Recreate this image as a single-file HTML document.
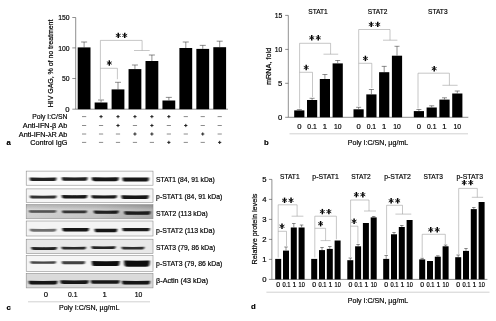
<!DOCTYPE html>
<html><head><meta charset="utf-8"><title>figure</title>
<style>
html,body{margin:0;padding:0;background:#fff;}
body{width:496px;height:321px;overflow:hidden;}
svg{display:block;font-family:"Liberation Sans",sans-serif;fill:#000;}
text{stroke:#000;stroke-width:0.2px;}
</style></head><body>
<svg width="496" height="321" viewBox="0 0 496 321">
<defs><filter id="soft" x="0" y="0" width="100%" height="100%"><feGaussianBlur stdDeviation="0.32"/></filter></defs>
<rect width="496" height="321" fill="#fff"/>
<g filter="url(#soft)">
<line x1="75.7" y1="17.5" x2="75.7" y2="109.2" stroke="#444" stroke-width="0.6"/>
<line x1="75.7" y1="109.2" x2="228" y2="109.2" stroke="#444" stroke-width="0.6"/>
<line x1="72.3" y1="17.5" x2="75.7" y2="17.5" stroke="#444" stroke-width="0.6"/>
<text x="69.6" y="20.16" font-size="7.7" text-anchor="end" textLength="11.37" lengthAdjust="spacingAndGlyphs">150</text>
<line x1="72.3" y1="47.9" x2="75.7" y2="47.9" stroke="#444" stroke-width="0.6"/>
<text x="69.6" y="50.56" font-size="7.7" text-anchor="end" textLength="11.37" lengthAdjust="spacingAndGlyphs">100</text>
<line x1="72.3" y1="78.5" x2="75.7" y2="78.5" stroke="#444" stroke-width="0.6"/>
<text x="69.6" y="81.16" font-size="7.7" text-anchor="end" textLength="7.58" lengthAdjust="spacingAndGlyphs">50</text>
<line x1="72.3" y1="109.2" x2="75.7" y2="109.2" stroke="#444" stroke-width="0.6"/>
<text x="69.6" y="111.86" font-size="7.7" text-anchor="end">0</text>
<text transform="translate(50.4,63.4) rotate(-90)" x="0" y="2.76" font-size="7.7" text-anchor="middle" textLength="87.5" lengthAdjust="spacingAndGlyphs">HIV GAG, % of no treatment</text>
<rect x="77.7" y="47.4" width="12.8" height="61.80" fill="#000"/>
<line x1="84.10000000000001" y1="42" x2="84.10000000000001" y2="47.4" stroke="#333" stroke-width="0.55"/>
<line x1="81.10000000000001" y1="42" x2="87.10000000000001" y2="42" stroke="#333" stroke-width="0.55"/>
<rect x="94.65" y="102.5" width="12.8" height="6.70" fill="#000"/>
<line x1="101.05000000000001" y1="100" x2="101.05000000000001" y2="102.5" stroke="#333" stroke-width="0.55"/>
<line x1="98.05000000000001" y1="100" x2="104.05000000000001" y2="100" stroke="#333" stroke-width="0.55"/>
<rect x="111.6" y="89.4" width="12.8" height="19.80" fill="#000"/>
<line x1="118.0" y1="82.3" x2="118.0" y2="89.4" stroke="#333" stroke-width="0.55"/>
<line x1="115.0" y1="82.3" x2="121.0" y2="82.3" stroke="#333" stroke-width="0.55"/>
<rect x="128.55" y="69.1" width="12.8" height="40.10" fill="#000"/>
<line x1="134.95000000000002" y1="65" x2="134.95000000000002" y2="69.1" stroke="#333" stroke-width="0.55"/>
<line x1="131.95000000000002" y1="65" x2="137.95000000000002" y2="65" stroke="#333" stroke-width="0.55"/>
<rect x="145.5" y="61" width="12.8" height="48.20" fill="#000"/>
<line x1="151.9" y1="55" x2="151.9" y2="61" stroke="#333" stroke-width="0.55"/>
<line x1="148.9" y1="55" x2="154.9" y2="55" stroke="#333" stroke-width="0.55"/>
<rect x="162.45" y="100.5" width="12.8" height="8.70" fill="#000"/>
<line x1="168.85" y1="97.4" x2="168.85" y2="100.5" stroke="#333" stroke-width="0.55"/>
<line x1="165.85" y1="97.4" x2="171.85" y2="97.4" stroke="#333" stroke-width="0.55"/>
<rect x="179.39999999999998" y="48" width="12.8" height="61.20" fill="#000"/>
<line x1="185.79999999999998" y1="42" x2="185.79999999999998" y2="48" stroke="#333" stroke-width="0.55"/>
<line x1="182.79999999999998" y1="42" x2="188.79999999999998" y2="42" stroke="#333" stroke-width="0.55"/>
<rect x="196.35" y="48.9" width="12.8" height="60.30" fill="#000"/>
<line x1="202.75" y1="45.4" x2="202.75" y2="48.9" stroke="#333" stroke-width="0.55"/>
<line x1="199.75" y1="45.4" x2="205.75" y2="45.4" stroke="#333" stroke-width="0.55"/>
<rect x="213.3" y="47.2" width="12.8" height="62.00" fill="#000"/>
<line x1="219.70000000000002" y1="41.2" x2="219.70000000000002" y2="47.2" stroke="#333" stroke-width="0.55"/>
<line x1="216.70000000000002" y1="41.2" x2="222.70000000000002" y2="41.2" stroke="#333" stroke-width="0.55"/>
<polyline points="100.4,99.5 100.4,40.4 142.1,40.4 142.1,50.5" fill="none" stroke="#999" stroke-width="0.55"/>
<line x1="134" y1="50.5" x2="149.7" y2="50.5" stroke="#999" stroke-width="0.55"/>
<polyline points="100.4,68.3 117.4,68.3 117.4,79.2" fill="none" stroke="#999" stroke-width="0.55"/>
<line x1="118.25" y1="32.699999999999996" x2="118.25" y2="38.1" stroke="#000" stroke-width="1.45"/>
<line x1="115.82" y1="34.22" x2="120.68" y2="36.58" stroke="#111" stroke-width="0.9"/>
<line x1="115.82" y1="36.58" x2="120.68" y2="34.22" stroke="#111" stroke-width="0.9"/>
<line x1="124.75" y1="32.699999999999996" x2="124.75" y2="38.1" stroke="#000" stroke-width="1.45"/>
<line x1="122.32" y1="34.22" x2="127.18" y2="36.58" stroke="#111" stroke-width="0.9"/>
<line x1="122.32" y1="36.58" x2="127.18" y2="34.22" stroke="#111" stroke-width="0.9"/>
<line x1="109.3" y1="60.3" x2="109.3" y2="65.7" stroke="#000" stroke-width="1.45"/>
<line x1="106.87" y1="61.82" x2="111.73" y2="64.18" stroke="#111" stroke-width="0.9"/>
<line x1="106.87" y1="64.18" x2="111.73" y2="61.82" stroke="#111" stroke-width="0.9"/>
<text x="67.3" y="119.36" font-size="7.7" text-anchor="end" textLength="35" lengthAdjust="spacingAndGlyphs">Poly I:C/SN</text>
<line x1="82.00000000000001" y1="116.6" x2="86.2" y2="116.6" stroke="#666" stroke-width="0.75"/>
<line x1="99.45000000000002" y1="116.6" x2="102.65" y2="116.6" stroke="#222" stroke-width="1.0"/>
<line x1="101.05000000000001" y1="115.0" x2="101.05000000000001" y2="118.19999999999999" stroke="#222" stroke-width="1.0"/>
<line x1="116.4" y1="116.6" x2="119.6" y2="116.6" stroke="#222" stroke-width="1.0"/>
<line x1="118.0" y1="115.0" x2="118.0" y2="118.19999999999999" stroke="#222" stroke-width="1.0"/>
<line x1="133.35000000000002" y1="116.6" x2="136.55" y2="116.6" stroke="#222" stroke-width="1.0"/>
<line x1="134.95000000000002" y1="115.0" x2="134.95000000000002" y2="118.19999999999999" stroke="#222" stroke-width="1.0"/>
<line x1="150.3" y1="116.6" x2="153.5" y2="116.6" stroke="#222" stroke-width="1.0"/>
<line x1="151.9" y1="115.0" x2="151.9" y2="118.19999999999999" stroke="#222" stroke-width="1.0"/>
<line x1="167.25" y1="116.6" x2="170.45" y2="116.6" stroke="#222" stroke-width="1.0"/>
<line x1="168.85" y1="115.0" x2="168.85" y2="118.19999999999999" stroke="#222" stroke-width="1.0"/>
<line x1="183.7" y1="116.6" x2="187.89999999999998" y2="116.6" stroke="#666" stroke-width="0.75"/>
<line x1="200.65" y1="116.6" x2="204.85" y2="116.6" stroke="#666" stroke-width="0.75"/>
<line x1="217.60000000000002" y1="116.6" x2="221.8" y2="116.6" stroke="#666" stroke-width="0.75"/>
<text x="67.3" y="128.26" font-size="7.7" text-anchor="end" textLength="44.5" lengthAdjust="spacingAndGlyphs">Anti-IFN-β Ab</text>
<line x1="82.00000000000001" y1="125.5" x2="86.2" y2="125.5" stroke="#666" stroke-width="0.75"/>
<line x1="98.95000000000002" y1="125.5" x2="103.15" y2="125.5" stroke="#666" stroke-width="0.75"/>
<line x1="116.4" y1="125.5" x2="119.6" y2="125.5" stroke="#222" stroke-width="1.0"/>
<line x1="118.0" y1="123.9" x2="118.0" y2="127.1" stroke="#222" stroke-width="1.0"/>
<line x1="132.85000000000002" y1="125.5" x2="137.05" y2="125.5" stroke="#666" stroke-width="0.75"/>
<line x1="150.3" y1="125.5" x2="153.5" y2="125.5" stroke="#222" stroke-width="1.0"/>
<line x1="151.9" y1="123.9" x2="151.9" y2="127.1" stroke="#222" stroke-width="1.0"/>
<line x1="166.75" y1="125.5" x2="170.95" y2="125.5" stroke="#666" stroke-width="0.75"/>
<line x1="184.2" y1="125.5" x2="187.39999999999998" y2="125.5" stroke="#222" stroke-width="1.0"/>
<line x1="185.79999999999998" y1="123.9" x2="185.79999999999998" y2="127.1" stroke="#222" stroke-width="1.0"/>
<line x1="200.65" y1="125.5" x2="204.85" y2="125.5" stroke="#666" stroke-width="0.75"/>
<line x1="217.60000000000002" y1="125.5" x2="221.8" y2="125.5" stroke="#666" stroke-width="0.75"/>
<text x="67.3" y="136.76" font-size="7.7" text-anchor="end" textLength="48.5" lengthAdjust="spacingAndGlyphs">Anti-IFN-λR Ab</text>
<line x1="82.00000000000001" y1="134" x2="86.2" y2="134" stroke="#666" stroke-width="0.75"/>
<line x1="98.95000000000002" y1="134" x2="103.15" y2="134" stroke="#666" stroke-width="0.75"/>
<line x1="115.9" y1="134" x2="120.1" y2="134" stroke="#666" stroke-width="0.75"/>
<line x1="133.35000000000002" y1="134" x2="136.55" y2="134" stroke="#222" stroke-width="1.0"/>
<line x1="134.95000000000002" y1="132.4" x2="134.95000000000002" y2="135.6" stroke="#222" stroke-width="1.0"/>
<line x1="150.3" y1="134" x2="153.5" y2="134" stroke="#222" stroke-width="1.0"/>
<line x1="151.9" y1="132.4" x2="151.9" y2="135.6" stroke="#222" stroke-width="1.0"/>
<line x1="166.75" y1="134" x2="170.95" y2="134" stroke="#666" stroke-width="0.75"/>
<line x1="183.7" y1="134" x2="187.89999999999998" y2="134" stroke="#666" stroke-width="0.75"/>
<line x1="201.15" y1="134" x2="204.35" y2="134" stroke="#222" stroke-width="1.0"/>
<line x1="202.75" y1="132.4" x2="202.75" y2="135.6" stroke="#222" stroke-width="1.0"/>
<line x1="217.60000000000002" y1="134" x2="221.8" y2="134" stroke="#666" stroke-width="0.75"/>
<text x="67.3" y="145.16" font-size="7.7" text-anchor="end" textLength="37" lengthAdjust="spacingAndGlyphs">Control IgG</text>
<line x1="82.00000000000001" y1="142.4" x2="86.2" y2="142.4" stroke="#666" stroke-width="0.75"/>
<line x1="98.95000000000002" y1="142.4" x2="103.15" y2="142.4" stroke="#666" stroke-width="0.75"/>
<line x1="115.9" y1="142.4" x2="120.1" y2="142.4" stroke="#666" stroke-width="0.75"/>
<line x1="132.85000000000002" y1="142.4" x2="137.05" y2="142.4" stroke="#666" stroke-width="0.75"/>
<line x1="149.8" y1="142.4" x2="154.0" y2="142.4" stroke="#666" stroke-width="0.75"/>
<line x1="167.25" y1="142.4" x2="170.45" y2="142.4" stroke="#222" stroke-width="1.0"/>
<line x1="168.85" y1="140.8" x2="168.85" y2="144.0" stroke="#222" stroke-width="1.0"/>
<line x1="183.7" y1="142.4" x2="187.89999999999998" y2="142.4" stroke="#666" stroke-width="0.75"/>
<line x1="200.65" y1="142.4" x2="204.85" y2="142.4" stroke="#666" stroke-width="0.75"/>
<line x1="218.10000000000002" y1="142.4" x2="221.3" y2="142.4" stroke="#222" stroke-width="1.0"/>
<line x1="219.70000000000002" y1="140.8" x2="219.70000000000002" y2="144.0" stroke="#222" stroke-width="1.0"/>
<text x="6.5" y="144.56" font-size="7.7" text-anchor="start" font-weight="bold">a</text>
<line x1="288.3" y1="15.4" x2="288.3" y2="117.3" stroke="#444" stroke-width="0.6"/>
<line x1="288.3" y1="117.3" x2="468.3" y2="117.3" stroke="#444" stroke-width="0.6"/>
<line x1="285.2" y1="15.4" x2="288.3" y2="15.4" stroke="#444" stroke-width="0.6"/>
<text x="282.4" y="18.26" font-size="7.7" text-anchor="end" textLength="7.58" lengthAdjust="spacingAndGlyphs">15</text>
<line x1="285.2" y1="49.4" x2="288.3" y2="49.4" stroke="#444" stroke-width="0.6"/>
<text x="282.4" y="52.26" font-size="7.7" text-anchor="end" textLength="7.58" lengthAdjust="spacingAndGlyphs">10</text>
<line x1="285.2" y1="83.3" x2="288.3" y2="83.3" stroke="#444" stroke-width="0.6"/>
<text x="282.4" y="86.16" font-size="7.7" text-anchor="end">5</text>
<line x1="285.2" y1="117.3" x2="288.3" y2="117.3" stroke="#444" stroke-width="0.6"/>
<text x="282.4" y="120.16" font-size="7.7" text-anchor="end">0</text>
<text transform="translate(268.3,66.4) rotate(-90)" x="0" y="2.76" font-size="7.7" text-anchor="middle" textLength="37.2" lengthAdjust="spacingAndGlyphs">mRNA, fold</text>
<rect x="294.2" y="110.4" width="10.2" height="6.90" fill="#000"/>
<line x1="299.3" y1="109.6" x2="299.3" y2="110.4" stroke="#333" stroke-width="0.55"/>
<line x1="296.8" y1="109.6" x2="301.8" y2="109.6" stroke="#333" stroke-width="0.55"/>
<text x="299.3" y="129.06" font-size="7.7" text-anchor="middle">0</text>
<rect x="307.0" y="100" width="10.2" height="17.30" fill="#000"/>
<line x1="312.1" y1="98.3" x2="312.1" y2="100" stroke="#333" stroke-width="0.55"/>
<line x1="309.6" y1="98.3" x2="314.6" y2="98.3" stroke="#333" stroke-width="0.55"/>
<text x="312.1" y="129.06" font-size="7.7" text-anchor="middle" textLength="9.47" lengthAdjust="spacingAndGlyphs">0.1</text>
<rect x="319.8" y="79" width="10.2" height="38.30" fill="#000"/>
<line x1="324.90000000000003" y1="74.5" x2="324.90000000000003" y2="79" stroke="#333" stroke-width="0.55"/>
<line x1="322.40000000000003" y1="74.5" x2="327.40000000000003" y2="74.5" stroke="#333" stroke-width="0.55"/>
<text x="324.90000000000003" y="129.06" font-size="7.7" text-anchor="middle">1</text>
<rect x="332.6" y="63.4" width="10.2" height="53.90" fill="#000"/>
<line x1="337.70000000000005" y1="60.5" x2="337.70000000000005" y2="63.4" stroke="#333" stroke-width="0.55"/>
<line x1="335.20000000000005" y1="60.5" x2="340.20000000000005" y2="60.5" stroke="#333" stroke-width="0.55"/>
<text x="337.70000000000005" y="129.06" font-size="7.7" text-anchor="middle" textLength="7.58" lengthAdjust="spacingAndGlyphs">10</text>
<rect x="353.5" y="109.3" width="10.2" height="8.00" fill="#000"/>
<line x1="358.6" y1="107.3" x2="358.6" y2="109.3" stroke="#333" stroke-width="0.55"/>
<line x1="356.1" y1="107.3" x2="361.1" y2="107.3" stroke="#333" stroke-width="0.55"/>
<text x="358.6" y="129.06" font-size="7.7" text-anchor="middle">0</text>
<rect x="366.3" y="94.4" width="10.2" height="22.90" fill="#000"/>
<line x1="371.40000000000003" y1="89.5" x2="371.40000000000003" y2="94.4" stroke="#333" stroke-width="0.55"/>
<line x1="368.90000000000003" y1="89.5" x2="373.90000000000003" y2="89.5" stroke="#333" stroke-width="0.55"/>
<text x="371.40000000000003" y="129.06" font-size="7.7" text-anchor="middle" textLength="9.47" lengthAdjust="spacingAndGlyphs">0.1</text>
<rect x="379.1" y="72.2" width="10.2" height="45.10" fill="#000"/>
<line x1="384.20000000000005" y1="66.4" x2="384.20000000000005" y2="72.2" stroke="#333" stroke-width="0.55"/>
<line x1="381.70000000000005" y1="66.4" x2="386.70000000000005" y2="66.4" stroke="#333" stroke-width="0.55"/>
<text x="384.20000000000005" y="129.06" font-size="7.7" text-anchor="middle">1</text>
<rect x="391.9" y="55.7" width="10.2" height="61.60" fill="#000"/>
<line x1="397.0" y1="46.3" x2="397.0" y2="55.7" stroke="#333" stroke-width="0.55"/>
<line x1="394.5" y1="46.3" x2="399.5" y2="46.3" stroke="#333" stroke-width="0.55"/>
<text x="397.0" y="129.06" font-size="7.7" text-anchor="middle" textLength="7.58" lengthAdjust="spacingAndGlyphs">10</text>
<rect x="413.8" y="111.1" width="10.2" height="6.20" fill="#000"/>
<line x1="418.90000000000003" y1="109.5" x2="418.90000000000003" y2="111.1" stroke="#333" stroke-width="0.55"/>
<line x1="416.40000000000003" y1="109.5" x2="421.40000000000003" y2="109.5" stroke="#333" stroke-width="0.55"/>
<text x="418.90000000000003" y="129.06" font-size="7.7" text-anchor="middle">0</text>
<rect x="426.6" y="107.5" width="10.2" height="9.80" fill="#000"/>
<line x1="431.70000000000005" y1="105.8" x2="431.70000000000005" y2="107.5" stroke="#333" stroke-width="0.55"/>
<line x1="429.20000000000005" y1="105.8" x2="434.20000000000005" y2="105.8" stroke="#333" stroke-width="0.55"/>
<text x="431.70000000000005" y="129.06" font-size="7.7" text-anchor="middle" textLength="9.47" lengthAdjust="spacingAndGlyphs">0.1</text>
<rect x="439.40000000000003" y="99.6" width="10.2" height="17.70" fill="#000"/>
<line x1="444.50000000000006" y1="97.8" x2="444.50000000000006" y2="99.6" stroke="#333" stroke-width="0.55"/>
<line x1="442.00000000000006" y1="97.8" x2="447.00000000000006" y2="97.8" stroke="#333" stroke-width="0.55"/>
<text x="444.50000000000006" y="129.06" font-size="7.7" text-anchor="middle">1</text>
<rect x="452.20000000000005" y="93.5" width="10.2" height="23.80" fill="#000"/>
<line x1="457.30000000000007" y1="91" x2="457.30000000000007" y2="93.5" stroke="#333" stroke-width="0.55"/>
<line x1="454.80000000000007" y1="91" x2="459.80000000000007" y2="91" stroke="#333" stroke-width="0.55"/>
<text x="457.30000000000007" y="129.06" font-size="7.7" text-anchor="middle" textLength="7.58" lengthAdjust="spacingAndGlyphs">10</text>
<text x="318" y="14.36" font-size="7.7" text-anchor="middle" textLength="19.5" lengthAdjust="spacingAndGlyphs">STAT1</text>
<text x="377.6" y="14.36" font-size="7.7" text-anchor="middle" textLength="19.5" lengthAdjust="spacingAndGlyphs">STAT2</text>
<text x="437.8" y="14.36" font-size="7.7" text-anchor="middle" textLength="19.5" lengthAdjust="spacingAndGlyphs">STAT3</text>
<polyline points="299.6,108.5 299.6,43.3 330.6,43.3 330.6,54.2" fill="none" stroke="#999" stroke-width="0.55"/>
<line x1="323.5" y1="54.2" x2="338.2" y2="54.2" stroke="#999" stroke-width="0.55"/>
<polyline points="299.6,72.3 312.5,72.3 312.5,97" fill="none" stroke="#999" stroke-width="0.55"/>
<line x1="311.75" y1="35.099999999999994" x2="311.75" y2="40.5" stroke="#000" stroke-width="1.45"/>
<line x1="309.32" y1="36.62" x2="314.18" y2="38.98" stroke="#111" stroke-width="0.9"/>
<line x1="309.32" y1="38.98" x2="314.18" y2="36.62" stroke="#111" stroke-width="0.9"/>
<line x1="318.25" y1="35.099999999999994" x2="318.25" y2="40.5" stroke="#000" stroke-width="1.45"/>
<line x1="315.82" y1="36.62" x2="320.68" y2="38.98" stroke="#111" stroke-width="0.9"/>
<line x1="315.82" y1="38.98" x2="320.68" y2="36.62" stroke="#111" stroke-width="0.9"/>
<line x1="306.2" y1="64.8" x2="306.2" y2="70.2" stroke="#000" stroke-width="1.45"/>
<line x1="303.77" y1="66.32" x2="308.63" y2="68.68" stroke="#111" stroke-width="0.9"/>
<line x1="303.77" y1="68.68" x2="308.63" y2="66.32" stroke="#111" stroke-width="0.9"/>
<polyline points="358.7,106 358.7,29.5 390,29.5 390,40.2" fill="none" stroke="#999" stroke-width="0.55"/>
<line x1="383" y1="40.2" x2="397.4" y2="40.2" stroke="#999" stroke-width="0.55"/>
<polyline points="358.7,63.3 371.8,63.3 371.8,88" fill="none" stroke="#999" stroke-width="0.55"/>
<line x1="371.25" y1="21.7" x2="371.25" y2="27.099999999999998" stroke="#000" stroke-width="1.45"/>
<line x1="368.82" y1="23.22" x2="373.68" y2="25.58" stroke="#111" stroke-width="0.9"/>
<line x1="368.82" y1="25.58" x2="373.68" y2="23.22" stroke="#111" stroke-width="0.9"/>
<line x1="377.75" y1="21.7" x2="377.75" y2="27.099999999999998" stroke="#000" stroke-width="1.45"/>
<line x1="375.32" y1="23.22" x2="380.18" y2="25.58" stroke="#111" stroke-width="0.9"/>
<line x1="375.32" y1="25.58" x2="380.18" y2="23.22" stroke="#111" stroke-width="0.9"/>
<line x1="365.4" y1="55.699999999999996" x2="365.4" y2="61.1" stroke="#000" stroke-width="1.45"/>
<line x1="362.97" y1="57.22" x2="367.83" y2="59.58" stroke="#111" stroke-width="0.9"/>
<line x1="362.97" y1="59.58" x2="367.83" y2="57.22" stroke="#111" stroke-width="0.9"/>
<polyline points="418,108.5 418,73.2 449.4,73.2 449.4,85.3" fill="none" stroke="#999" stroke-width="0.55"/>
<line x1="442.4" y1="85.3" x2="457.6" y2="85.3" stroke="#999" stroke-width="0.55"/>
<line x1="434.2" y1="66.0" x2="434.2" y2="71.4" stroke="#000" stroke-width="1.45"/>
<line x1="431.77" y1="67.52" x2="436.63" y2="69.88" stroke="#111" stroke-width="0.9"/>
<line x1="431.77" y1="69.88" x2="436.63" y2="67.52" stroke="#111" stroke-width="0.9"/>
<line x1="289.5" y1="133.8" x2="468" y2="133.8" stroke="#aaa" stroke-width="0.55"/>
<text x="378" y="144.76" font-size="7.7" text-anchor="middle" textLength="60.5" lengthAdjust="spacingAndGlyphs">Poly I:C/SN, µg/mL</text>
<text x="264" y="144.56" font-size="7.7" text-anchor="start" font-weight="bold">b</text>
<defs><filter id="bl" x="-10%" y="-100%" width="120%" height="300%"><feGaussianBlur stdDeviation="0.9 0.75"/></filter>
<clipPath id="cp0"><rect x="26.2" y="171.1" width="126.8" height="14.10"/></clipPath>
<clipPath id="cp1"><rect x="26.2" y="188.9" width="126.8" height="13.70"/></clipPath>
<clipPath id="cp2"><rect x="26.2" y="204.7" width="126.8" height="14.10"/></clipPath>
<clipPath id="cp3"><rect x="26.2" y="221" width="126.8" height="15.00"/></clipPath>
<clipPath id="cp4"><rect x="26.2" y="239.2" width="126.8" height="14.40"/></clipPath>
<clipPath id="cp5"><rect x="26.2" y="255.6" width="126.8" height="15.90"/></clipPath>
<clipPath id="cp6"><rect x="26.2" y="273.5" width="126.8" height="14.40"/></clipPath>
<linearGradient id="g3" x1="0" x2="1"><stop offset="0" stop-color="#cfcfcf"/><stop offset="0.55" stop-color="#c2c2c2"/><stop offset="1" stop-color="#a4a4a4"/></linearGradient>
<linearGradient id="g3v" x1="0" x2="0" y1="0" y2="1"><stop offset="0" stop-color="#000" stop-opacity="0.12"/><stop offset="0.35" stop-color="#fff" stop-opacity="0.15"/><stop offset="1" stop-color="#fff" stop-opacity="0.0"/></linearGradient>
</defs>
<rect x="26.2" y="171.1" width="126.8" height="14.10" fill="#fbfbfb" stroke="#858585" stroke-width="0.55"/>
<g clip-path="url(#cp0)" filter="url(#bl)">
<path d="M29.70,177.57 Q43.1,177.82 56.40,177.57 C56.40,181.22 55.20,181.12 53.40,181.12 L32.70,181.12 C30.90,181.12 29.70,181.22 29.70,177.57 Z" fill="#0a0a0a" opacity="0.92"/>
<path d="M61.80,177.35 Q74.7,177.60 87.50,177.35 C87.50,180.95 86.30,180.85 84.50,180.85 L64.80,180.85 C63.00,180.85 61.80,180.95 61.80,177.35 Z" fill="#0a0a0a" opacity="0.92"/>
<path d="M91.80,177.35 Q105.2,177.60 118.70,177.35 C118.70,181.25 117.50,181.15 115.70,181.15 L94.80,181.15 C93.00,181.15 91.80,181.25 91.80,177.35 Z" fill="#0a0a0a" opacity="0.97"/>
<path d="M122.40,177.45 Q135.6,177.70 148.90,177.45 C148.90,181.55 147.70,181.45 145.90,181.45 L125.40,181.45 C123.60,181.45 122.40,181.55 122.40,177.45 Z" fill="#0a0a0a" opacity="0.95"/>
</g>
<rect x="26.2" y="188.9" width="126.8" height="13.70" fill="#f5f5f5" stroke="#858585" stroke-width="0.55"/>
<g clip-path="url(#cp1)" filter="url(#bl)">
<path d="M29.90,195.57 Q43.2,195.82 56.50,195.57 C56.50,198.62 55.30,198.52 53.50,198.52 L32.90,198.52 C31.10,198.52 29.90,198.62 29.90,195.57 Z" fill="#0a0a0a" opacity="0.85"/>
<path d="M61.80,195.00 Q74.5,195.25 87.30,195.00 C87.30,198.50 86.10,198.40 84.30,198.40 L64.80,198.40 C63.00,198.40 61.80,198.50 61.80,195.00 Z" fill="#0a0a0a" opacity="0.95"/>
<path d="M91.40,195.28 Q104.2,195.53 116.90,195.28 C116.90,198.52 115.70,198.42 113.90,198.42 L94.40,198.42 C92.60,198.42 91.40,198.52 91.40,195.28 Z" fill="#0a0a0a" opacity="0.93"/>
<path d="M121.40,195.35 Q135.0,195.60 148.70,195.35 C148.70,199.15 147.50,199.05 145.70,199.05 L124.40,199.05 C122.60,199.05 121.40,199.15 121.40,195.35 Z" fill="#0a0a0a" opacity="0.95"/>
</g>
<rect x="26.2" y="204.7" width="126.8" height="14.10" fill="url(#g3)" stroke="#858585" stroke-width="0.55"/>
<rect x="26.2" y="204.7" width="126.8" height="14.10" fill="url(#g3v)"/>
<g clip-path="url(#cp2)" filter="url(#bl)">
<path d="M28.90,210.15 Q42.6,210.40 56.30,210.15 C56.30,212.95 55.10,212.85 53.30,212.85 L31.90,212.85 C30.10,212.85 28.90,212.95 28.90,210.15 Z" fill="#0a0a0a" opacity="0.66"/>
<path d="M62.10,210.42 Q74.5,210.67 86.90,210.42 C86.90,213.38 85.70,213.28 83.90,213.28 L65.10,213.28 C63.30,213.28 62.10,213.38 62.10,210.42 Z" fill="#0a0a0a" opacity="0.8"/>
<path d="M93.70,210.57 Q106.2,210.82 118.70,210.57 C118.70,213.82 117.50,213.72 115.70,213.72 L96.70,213.72 C94.90,213.72 93.70,213.82 93.70,210.57 Z" fill="#0a0a0a" opacity="0.9"/>
<path d="M124.30,211.25 Q137.4,211.50 150.50,211.25 C150.50,214.85 149.30,214.75 147.50,214.75 L127.30,214.75 C125.50,214.75 124.30,214.85 124.30,211.25 Z" fill="#0a0a0a" opacity="0.9"/>
</g>
<rect x="26.2" y="221" width="126.8" height="15.00" fill="#f4f4f4" stroke="#858585" stroke-width="0.55"/>
<g clip-path="url(#cp3)" filter="url(#bl)">
<path d="M29.80,228.82 Q43.1,229.07 56.30,228.82 C56.30,231.78 55.10,231.68 53.30,231.68 L32.80,231.68 C31.00,231.68 29.80,231.78 29.80,228.82 Z" fill="#0a0a0a" opacity="0.55"/>
<path d="M62.40,227.97 Q75.7,228.22 88.90,227.97 C88.90,231.62 87.70,231.53 85.90,231.53 L65.40,231.53 C63.60,231.53 62.40,231.62 62.40,227.97 Z" fill="#0a0a0a" opacity="0.97"/>
<path d="M94.60,228.70 Q105.9,228.95 117.20,228.70 C117.20,232.40 116.00,232.30 114.20,232.30 L97.60,232.30 C95.80,232.30 94.60,232.40 94.60,228.70 Z" fill="#0a0a0a" opacity="0.97"/>
<path d="M122.40,227.90 Q136.0,228.15 149.70,227.90 C149.70,231.40 148.50,231.30 146.70,231.30 L125.40,231.30 C123.60,231.30 122.40,231.40 122.40,227.90 Z" fill="#0a0a0a" opacity="0.93"/>
</g>
<rect x="26.2" y="239.2" width="126.8" height="14.40" fill="#e8e8e8" stroke="#858585" stroke-width="0.55"/>
<g clip-path="url(#cp4)" filter="url(#bl)">
<path d="M31.30,247.10 Q44.1,247.35 56.90,247.10 C56.90,250.00 55.70,249.90 53.90,249.90 L34.30,249.90 C32.50,249.90 31.30,250.00 31.30,247.10 Z" fill="#0a0a0a" opacity="0.9"/>
<path d="M61.50,246.75 Q73.8,247.00 86.00,246.75 C86.00,249.55 84.80,249.45 83.00,249.45 L64.50,249.45 C62.70,249.45 61.50,249.55 61.50,246.75 Z" fill="#0a0a0a" opacity="0.88"/>
<path d="M91.40,246.35 Q103.5,246.60 115.60,246.35 C115.60,249.15 114.40,249.05 112.60,249.05 L94.40,249.05 C92.60,249.05 91.40,249.15 91.40,246.35 Z" fill="#0a0a0a" opacity="0.9"/>
<path d="M121.50,246.78 Q132.9,247.03 144.40,246.78 C144.40,249.62 143.20,249.52 141.40,249.52 L124.50,249.52 C122.70,249.52 121.50,249.62 121.50,246.78 Z" fill="#0a0a0a" opacity="0.85"/>
</g>
<rect x="26.2" y="255.6" width="126.8" height="15.90" fill="#f5f5f5" stroke="#858585" stroke-width="0.55"/>
<g clip-path="url(#cp5)" filter="url(#bl)">
<path d="M30.40,261.25 Q43.2,261.50 56.00,261.25 C56.00,263.95 54.80,263.85 53.00,263.85 L33.40,263.85 C31.60,263.85 30.40,263.95 30.40,261.25 Z" fill="#0a0a0a" opacity="0.75"/>
<path d="M61.80,261.20 Q73.5,261.45 85.10,261.20 C85.10,264.30 83.90,264.20 82.10,264.20 L64.80,264.20 C63.00,264.20 61.80,264.30 61.80,261.20 Z" fill="#0a0a0a" opacity="0.78"/>
<path d="M91.80,261.05 Q105.7,261.30 119.60,261.05 C119.60,266.15 118.40,266.05 116.60,266.05 L94.80,266.05 C93.00,266.05 91.80,266.15 91.80,261.05 Z" fill="#0a0a0a" opacity="0.98"/>
<path d="M124.10,260.55 Q136.9,260.80 149.70,260.55 C149.70,266.75 148.50,266.65 146.70,266.65 L127.10,266.65 C125.30,266.65 124.10,266.75 124.10,260.55 Z" fill="#0a0a0a" opacity="0.98"/>
</g>
<rect x="26.2" y="273.5" width="126.8" height="14.40" fill="#dadada" stroke="#858585" stroke-width="0.55"/>
<g clip-path="url(#cp6)" filter="url(#bl)">
<path d="M28.70,280.83 Q43.1,281.08 57.40,280.83 C57.40,284.58 56.20,284.48 54.40,284.48 L31.70,284.48 C29.90,284.48 28.70,284.58 28.70,280.83 Z" fill="#0a0a0a" opacity="0.97"/>
<path d="M60.40,280.30 Q74.5,280.55 88.60,280.30 C88.60,284.00 87.40,283.90 85.60,283.90 L63.40,283.90 C61.60,283.90 60.40,284.00 60.40,280.30 Z" fill="#0a0a0a" opacity="0.97"/>
<path d="M90.90,280.23 Q105.2,280.48 119.60,280.23 C119.60,283.78 118.40,283.68 116.60,283.68 L93.90,283.68 C92.10,283.68 90.90,283.78 90.90,280.23 Z" fill="#0a0a0a" opacity="0.97"/>
<path d="M122.00,280.75 Q136.0,281.00 150.00,280.75 C150.00,284.55 148.80,284.45 147.00,284.45 L125.00,284.45 C123.20,284.45 122.00,284.55 122.00,280.75 Z" fill="#0a0a0a" opacity="0.97"/>
</g>
<text x="156.1" y="182.36" font-size="7.7" text-anchor="start" textLength="58.7" lengthAdjust="spacingAndGlyphs">STAT1 (84, 91 kDa)</text>
<text x="156.1" y="199.16" font-size="7.7" text-anchor="start" textLength="66.2" lengthAdjust="spacingAndGlyphs">p-STAT1 (84, 91 kDa)</text>
<text x="156.1" y="216.36" font-size="7.7" text-anchor="start" textLength="51.7" lengthAdjust="spacingAndGlyphs">STAT2 (113 kDa)</text>
<text x="156.1" y="233.46" font-size="7.7" text-anchor="start" textLength="58.7" lengthAdjust="spacingAndGlyphs">p-STAT2 (113 kDa)</text>
<text x="156.1" y="250.06" font-size="7.7" text-anchor="start" textLength="59.1" lengthAdjust="spacingAndGlyphs">STAT3 (79, 86 kDa)</text>
<text x="156.1" y="266.26" font-size="7.7" text-anchor="start" textLength="66.2" lengthAdjust="spacingAndGlyphs">p-STAT3 (79, 86 kDa)</text>
<text x="156.1" y="282.76" font-size="7.7" text-anchor="start" textLength="52.1" lengthAdjust="spacingAndGlyphs">β-Actin (43 kDa)</text>
<text x="46" y="297.06" font-size="7.7" text-anchor="middle">0</text>
<text x="72.8" y="297.06" font-size="7.7" text-anchor="middle" textLength="9.47" lengthAdjust="spacingAndGlyphs">0.1</text>
<text x="104.7" y="297.06" font-size="7.7" text-anchor="middle">1</text>
<text x="138.5" y="297.06" font-size="7.7" text-anchor="middle" textLength="7.58" lengthAdjust="spacingAndGlyphs">10</text>
<line x1="28" y1="301.8" x2="150" y2="301.8" stroke="#aaa" stroke-width="0.55"/>
<text x="89.2" y="310.46" font-size="7.7" text-anchor="middle" textLength="60.5" lengthAdjust="spacingAndGlyphs">Poly I:C/SN, µg/mL</text>
<text x="6.5" y="310.46" font-size="7.7" text-anchor="start" font-weight="bold">c</text>
<line x1="271.9" y1="179.4" x2="271.9" y2="279.4" stroke="#444" stroke-width="0.6"/>
<line x1="271.9" y1="279.4" x2="487.4" y2="279.4" stroke="#444" stroke-width="0.6"/>
<line x1="268.9" y1="279.4" x2="271.9" y2="279.4" stroke="#444" stroke-width="0.6"/>
<text x="266.6" y="282.16" font-size="7.7" text-anchor="end">0</text>
<line x1="268.9" y1="259.4" x2="271.9" y2="259.4" stroke="#444" stroke-width="0.6"/>
<text x="266.6" y="262.16" font-size="7.7" text-anchor="end">1</text>
<line x1="268.9" y1="239.39999999999998" x2="271.9" y2="239.39999999999998" stroke="#444" stroke-width="0.6"/>
<text x="266.6" y="242.16" font-size="7.7" text-anchor="end">2</text>
<line x1="268.9" y1="219.39999999999998" x2="271.9" y2="219.39999999999998" stroke="#444" stroke-width="0.6"/>
<text x="266.6" y="222.16" font-size="7.7" text-anchor="end">3</text>
<line x1="268.9" y1="199.39999999999998" x2="271.9" y2="199.39999999999998" stroke="#444" stroke-width="0.6"/>
<text x="266.6" y="202.16" font-size="7.7" text-anchor="end">4</text>
<line x1="268.9" y1="179.39999999999998" x2="271.9" y2="179.39999999999998" stroke="#444" stroke-width="0.6"/>
<text x="266.6" y="182.16" font-size="7.7" text-anchor="end">5</text>
<text transform="translate(254.4,229) rotate(-90)" x="0" y="2.76" font-size="7.7" text-anchor="middle" textLength="70.9" lengthAdjust="spacingAndGlyphs">Relative protein levels</text>
<rect x="275.2" y="258.9" width="6" height="20.50" fill="#000"/>
<rect x="283.0" y="250.6" width="6" height="28.80" fill="#000"/>
<line x1="286.0" y1="247" x2="286.0" y2="250.6" stroke="#333" stroke-width="0.55"/>
<line x1="284.25" y1="247" x2="287.75" y2="247" stroke="#333" stroke-width="0.55"/>
<rect x="290.8" y="227.5" width="6" height="51.90" fill="#000"/>
<line x1="293.8" y1="223.5" x2="293.8" y2="227.5" stroke="#333" stroke-width="0.55"/>
<line x1="292.05" y1="223.5" x2="295.55" y2="223.5" stroke="#333" stroke-width="0.55"/>
<rect x="298.59999999999997" y="227.5" width="6" height="51.90" fill="#000"/>
<line x1="301.59999999999997" y1="225" x2="301.59999999999997" y2="227.5" stroke="#333" stroke-width="0.55"/>
<line x1="299.84999999999997" y1="225" x2="303.34999999999997" y2="225" stroke="#333" stroke-width="0.55"/>
<text x="278.2" y="287.47" font-size="6.9" text-anchor="middle">0</text>
<text x="286.4" y="287.47" font-size="6.9" text-anchor="middle" textLength="8.0" lengthAdjust="spacingAndGlyphs">0.1</text>
<text x="294.4" y="287.47" font-size="6.9" text-anchor="middle">1</text>
<text x="301.7" y="287.47" font-size="6.9" text-anchor="middle" textLength="6.2" lengthAdjust="spacingAndGlyphs">10</text>
<rect x="311.2" y="258.9" width="6" height="20.50" fill="#000"/>
<rect x="319.0" y="250.1" width="6" height="29.30" fill="#000"/>
<line x1="322.0" y1="247.5" x2="322.0" y2="250.1" stroke="#333" stroke-width="0.55"/>
<line x1="320.25" y1="247.5" x2="323.75" y2="247.5" stroke="#333" stroke-width="0.55"/>
<rect x="326.8" y="248.9" width="6" height="30.50" fill="#000"/>
<line x1="329.8" y1="246.5" x2="329.8" y2="248.9" stroke="#333" stroke-width="0.55"/>
<line x1="328.05" y1="246.5" x2="331.55" y2="246.5" stroke="#333" stroke-width="0.55"/>
<rect x="334.59999999999997" y="240.5" width="6" height="38.90" fill="#000"/>
<text x="314.2" y="287.47" font-size="6.9" text-anchor="middle">0</text>
<text x="322.4" y="287.47" font-size="6.9" text-anchor="middle" textLength="8.0" lengthAdjust="spacingAndGlyphs">0.1</text>
<text x="330.4" y="287.47" font-size="6.9" text-anchor="middle">1</text>
<text x="337.7" y="287.47" font-size="6.9" text-anchor="middle" textLength="6.2" lengthAdjust="spacingAndGlyphs">10</text>
<rect x="347.3" y="260.2" width="6" height="19.20" fill="#000"/>
<line x1="350.3" y1="258" x2="350.3" y2="260.2" stroke="#333" stroke-width="0.55"/>
<line x1="348.55" y1="258" x2="352.05" y2="258" stroke="#333" stroke-width="0.55"/>
<rect x="355.1" y="246.3" width="6" height="33.10" fill="#000"/>
<line x1="358.1" y1="244.5" x2="358.1" y2="246.3" stroke="#333" stroke-width="0.55"/>
<line x1="356.35" y1="244.5" x2="359.85" y2="244.5" stroke="#333" stroke-width="0.55"/>
<rect x="362.90000000000003" y="223" width="6" height="56.40" fill="#000"/>
<rect x="370.7" y="217.4" width="6" height="62.00" fill="#000"/>
<line x1="373.7" y1="216.5" x2="373.7" y2="217.4" stroke="#333" stroke-width="0.55"/>
<line x1="371.95" y1="216.5" x2="375.45" y2="216.5" stroke="#333" stroke-width="0.55"/>
<text x="350.3" y="287.47" font-size="6.9" text-anchor="middle">0</text>
<text x="358.5" y="287.47" font-size="6.9" text-anchor="middle" textLength="8.0" lengthAdjust="spacingAndGlyphs">0.1</text>
<text x="366.5" y="287.47" font-size="6.9" text-anchor="middle">1</text>
<text x="373.8" y="287.47" font-size="6.9" text-anchor="middle" textLength="6.2" lengthAdjust="spacingAndGlyphs">10</text>
<rect x="383.2" y="258.9" width="6" height="20.50" fill="#000"/>
<line x1="386.2" y1="255.5" x2="386.2" y2="258.9" stroke="#333" stroke-width="0.55"/>
<line x1="384.45" y1="255.5" x2="387.95" y2="255.5" stroke="#333" stroke-width="0.55"/>
<rect x="391.0" y="234.3" width="6" height="45.10" fill="#000"/>
<line x1="394.0" y1="232.5" x2="394.0" y2="234.3" stroke="#333" stroke-width="0.55"/>
<line x1="392.25" y1="232.5" x2="395.75" y2="232.5" stroke="#333" stroke-width="0.55"/>
<rect x="398.8" y="227" width="6" height="52.40" fill="#000"/>
<line x1="401.8" y1="225.5" x2="401.8" y2="227" stroke="#333" stroke-width="0.55"/>
<line x1="400.05" y1="225.5" x2="403.55" y2="225.5" stroke="#333" stroke-width="0.55"/>
<rect x="406.59999999999997" y="220" width="6" height="59.40" fill="#000"/>
<text x="386.2" y="287.47" font-size="6.9" text-anchor="middle">0</text>
<text x="394.4" y="287.47" font-size="6.9" text-anchor="middle" textLength="8.0" lengthAdjust="spacingAndGlyphs">0.1</text>
<text x="402.4" y="287.47" font-size="6.9" text-anchor="middle">1</text>
<text x="409.7" y="287.47" font-size="6.9" text-anchor="middle" textLength="6.2" lengthAdjust="spacingAndGlyphs">10</text>
<rect x="419.2" y="259.4" width="6" height="20.00" fill="#000"/>
<line x1="422.2" y1="258.3" x2="422.2" y2="259.4" stroke="#333" stroke-width="0.55"/>
<line x1="420.45" y1="258.3" x2="423.95" y2="258.3" stroke="#333" stroke-width="0.55"/>
<rect x="427.0" y="261" width="6" height="18.40" fill="#000"/>
<rect x="434.8" y="256.7" width="6" height="22.70" fill="#000"/>
<line x1="437.8" y1="255.8" x2="437.8" y2="256.7" stroke="#333" stroke-width="0.55"/>
<line x1="436.05" y1="255.8" x2="439.55" y2="255.8" stroke="#333" stroke-width="0.55"/>
<rect x="442.59999999999997" y="246.3" width="6" height="33.10" fill="#000"/>
<line x1="445.59999999999997" y1="245" x2="445.59999999999997" y2="246.3" stroke="#333" stroke-width="0.55"/>
<line x1="443.84999999999997" y1="245" x2="447.34999999999997" y2="245" stroke="#333" stroke-width="0.55"/>
<text x="422.2" y="287.47" font-size="6.9" text-anchor="middle">0</text>
<text x="430.4" y="287.47" font-size="6.9" text-anchor="middle" textLength="8.0" lengthAdjust="spacingAndGlyphs">0.1</text>
<text x="438.4" y="287.47" font-size="6.9" text-anchor="middle">1</text>
<text x="445.7" y="287.47" font-size="6.9" text-anchor="middle" textLength="6.2" lengthAdjust="spacingAndGlyphs">10</text>
<rect x="455.2" y="257.2" width="6" height="22.20" fill="#000"/>
<line x1="458.2" y1="255" x2="458.2" y2="257.2" stroke="#333" stroke-width="0.55"/>
<line x1="456.45" y1="255" x2="459.95" y2="255" stroke="#333" stroke-width="0.55"/>
<rect x="463.0" y="250.9" width="6" height="28.50" fill="#000"/>
<line x1="466.0" y1="248.5" x2="466.0" y2="250.9" stroke="#333" stroke-width="0.55"/>
<line x1="464.25" y1="248.5" x2="467.75" y2="248.5" stroke="#333" stroke-width="0.55"/>
<rect x="470.8" y="209.1" width="6" height="70.30" fill="#000"/>
<line x1="473.8" y1="207.5" x2="473.8" y2="209.1" stroke="#333" stroke-width="0.55"/>
<line x1="472.05" y1="207.5" x2="475.55" y2="207.5" stroke="#333" stroke-width="0.55"/>
<rect x="478.59999999999997" y="202" width="6" height="77.40" fill="#000"/>
<text x="458.2" y="287.47" font-size="6.9" text-anchor="middle">0</text>
<text x="466.4" y="287.47" font-size="6.9" text-anchor="middle" textLength="8.0" lengthAdjust="spacingAndGlyphs">0.1</text>
<text x="474.4" y="287.47" font-size="6.9" text-anchor="middle">1</text>
<text x="481.7" y="287.47" font-size="6.9" text-anchor="middle" textLength="6.2" lengthAdjust="spacingAndGlyphs">10</text>
<text x="289.8" y="178.56" font-size="7.7" text-anchor="middle" textLength="19.5" lengthAdjust="spacingAndGlyphs">STAT1</text>
<text x="325.6" y="178.56" font-size="7.7" text-anchor="middle" textLength="26.5" lengthAdjust="spacingAndGlyphs">p-STAT1</text>
<text x="360.9" y="178.56" font-size="7.7" text-anchor="middle" textLength="19.5" lengthAdjust="spacingAndGlyphs">STAT2</text>
<text x="397.5" y="178.56" font-size="7.7" text-anchor="middle" textLength="26.5" lengthAdjust="spacingAndGlyphs">p-STAT2</text>
<text x="433.2" y="178.56" font-size="7.7" text-anchor="middle" textLength="19.5" lengthAdjust="spacingAndGlyphs">STAT3</text>
<text x="469.8" y="178.56" font-size="7.7" text-anchor="middle" textLength="26.5" lengthAdjust="spacingAndGlyphs">p-STAT3</text>
<polyline points="278.2,257.5 278.2,204.8 297.1,204.8 297.1,216.2" fill="none" stroke="#999" stroke-width="0.55"/>
<line x1="291.6" y1="216.2" x2="303.4" y2="216.2" stroke="#999" stroke-width="0.55"/>
<polyline points="278.2,231.3 286.5,231.3 286.5,246" fill="none" stroke="#999" stroke-width="0.55"/>
<line x1="284.55" y1="197.60000000000002" x2="284.55" y2="203.0" stroke="#000" stroke-width="1.45"/>
<line x1="282.12" y1="199.12" x2="286.98" y2="201.48" stroke="#111" stroke-width="0.9"/>
<line x1="282.12" y1="201.48" x2="286.98" y2="199.12" stroke="#111" stroke-width="0.9"/>
<line x1="291.05" y1="197.60000000000002" x2="291.05" y2="203.0" stroke="#000" stroke-width="1.45"/>
<line x1="288.62" y1="199.12" x2="293.48" y2="201.48" stroke="#111" stroke-width="0.9"/>
<line x1="288.62" y1="201.48" x2="293.48" y2="199.12" stroke="#111" stroke-width="0.9"/>
<line x1="282.0" y1="223.5" x2="282.0" y2="228.89999999999998" stroke="#000" stroke-width="1.45"/>
<line x1="279.57" y1="225.02" x2="284.43" y2="227.38" stroke="#111" stroke-width="0.9"/>
<line x1="279.57" y1="227.38" x2="284.43" y2="225.02" stroke="#111" stroke-width="0.9"/>
<polyline points="314.8,257.5 314.8,216.2 336.4,216.2 336.4,239.3" fill="none" stroke="#999" stroke-width="0.55"/>
<polyline points="314.8,228.3 325.6,228.3 325.6,240.6" fill="none" stroke="#999" stroke-width="0.55"/>
<line x1="320.6" y1="240.6" x2="330.6" y2="240.6" stroke="#999" stroke-width="0.55"/>
<line x1="322.35" y1="208.9" x2="322.35" y2="214.29999999999998" stroke="#000" stroke-width="1.45"/>
<line x1="319.92" y1="210.42" x2="324.78" y2="212.78" stroke="#111" stroke-width="0.9"/>
<line x1="319.92" y1="212.78" x2="324.78" y2="210.42" stroke="#111" stroke-width="0.9"/>
<line x1="328.85" y1="208.9" x2="328.85" y2="214.29999999999998" stroke="#000" stroke-width="1.45"/>
<line x1="326.42" y1="210.42" x2="331.28" y2="212.78" stroke="#111" stroke-width="0.9"/>
<line x1="326.42" y1="212.78" x2="331.28" y2="210.42" stroke="#111" stroke-width="0.9"/>
<line x1="320.6" y1="221.0" x2="320.6" y2="226.39999999999998" stroke="#000" stroke-width="1.45"/>
<line x1="318.17" y1="222.52" x2="323.03" y2="224.88" stroke="#111" stroke-width="0.9"/>
<line x1="318.17" y1="224.88" x2="323.03" y2="222.52" stroke="#111" stroke-width="0.9"/>
<polyline points="350.6,257 350.6,200 369,200 369,211" fill="none" stroke="#999" stroke-width="0.55"/>
<line x1="364" y1="211" x2="376" y2="211" stroke="#999" stroke-width="0.55"/>
<polyline points="350.6,226.2 357.9,226.2 357.9,243.5" fill="none" stroke="#999" stroke-width="0.55"/>
<line x1="356.35" y1="192.0" x2="356.35" y2="197.39999999999998" stroke="#000" stroke-width="1.45"/>
<line x1="353.92" y1="193.52" x2="358.78" y2="195.88" stroke="#111" stroke-width="0.9"/>
<line x1="353.92" y1="195.88" x2="358.78" y2="193.52" stroke="#111" stroke-width="0.9"/>
<line x1="362.85" y1="192.0" x2="362.85" y2="197.39999999999998" stroke="#000" stroke-width="1.45"/>
<line x1="360.42" y1="193.52" x2="365.28" y2="195.88" stroke="#111" stroke-width="0.9"/>
<line x1="360.42" y1="195.88" x2="365.28" y2="193.52" stroke="#111" stroke-width="0.9"/>
<line x1="354.1" y1="218.5" x2="354.1" y2="223.89999999999998" stroke="#000" stroke-width="1.45"/>
<line x1="351.67" y1="220.02" x2="356.53" y2="222.38" stroke="#111" stroke-width="0.9"/>
<line x1="351.67" y1="222.38" x2="356.53" y2="220.02" stroke="#111" stroke-width="0.9"/>
<polyline points="386.6,254.5 386.6,205.3 402.5,205.3 402.5,214.1" fill="none" stroke="#999" stroke-width="0.55"/>
<line x1="395.4" y1="214.1" x2="411.3" y2="214.1" stroke="#999" stroke-width="0.55"/>
<line x1="391.15" y1="198.10000000000002" x2="391.15" y2="203.5" stroke="#000" stroke-width="1.45"/>
<line x1="388.72" y1="199.62" x2="393.58" y2="201.98" stroke="#111" stroke-width="0.9"/>
<line x1="388.72" y1="201.98" x2="393.58" y2="199.62" stroke="#111" stroke-width="0.9"/>
<line x1="397.65" y1="198.10000000000002" x2="397.65" y2="203.5" stroke="#000" stroke-width="1.45"/>
<line x1="395.22" y1="199.62" x2="400.08" y2="201.98" stroke="#111" stroke-width="0.9"/>
<line x1="395.22" y1="201.98" x2="400.08" y2="199.62" stroke="#111" stroke-width="0.9"/>
<polyline points="422.2,257.5 422.2,234.3 445.3,234.3 445.3,244" fill="none" stroke="#999" stroke-width="0.55"/>
<line x1="430.75" y1="227.10000000000002" x2="430.75" y2="232.5" stroke="#000" stroke-width="1.45"/>
<line x1="428.32" y1="228.62" x2="433.18" y2="230.98" stroke="#111" stroke-width="0.9"/>
<line x1="428.32" y1="230.98" x2="433.18" y2="228.62" stroke="#111" stroke-width="0.9"/>
<line x1="437.25" y1="227.10000000000002" x2="437.25" y2="232.5" stroke="#000" stroke-width="1.45"/>
<line x1="434.82" y1="228.62" x2="439.68" y2="230.98" stroke="#111" stroke-width="0.9"/>
<line x1="434.82" y1="230.98" x2="439.68" y2="228.62" stroke="#111" stroke-width="0.9"/>
<polyline points="458.7,254 458.7,188.4 477.3,188.4 477.3,197.3" fill="none" stroke="#999" stroke-width="0.55"/>
<line x1="471.8" y1="197.3" x2="483.1" y2="197.3" stroke="#999" stroke-width="0.55"/>
<line x1="464.25" y1="179.9" x2="464.25" y2="185.29999999999998" stroke="#000" stroke-width="1.45"/>
<line x1="461.82" y1="181.42" x2="466.68" y2="183.78" stroke="#111" stroke-width="0.9"/>
<line x1="461.82" y1="183.78" x2="466.68" y2="181.42" stroke="#111" stroke-width="0.9"/>
<line x1="470.75" y1="179.9" x2="470.75" y2="185.29999999999998" stroke="#000" stroke-width="1.45"/>
<line x1="468.32" y1="181.42" x2="473.18" y2="183.78" stroke="#111" stroke-width="0.9"/>
<line x1="468.32" y1="183.78" x2="473.18" y2="181.42" stroke="#111" stroke-width="0.9"/>
<line x1="266.4" y1="292.2" x2="489.5" y2="292.2" stroke="#aaa" stroke-width="0.55"/>
<text x="378" y="303.26" font-size="7.7" text-anchor="middle" textLength="60.5" lengthAdjust="spacingAndGlyphs">Poly I:C/SN, µg/mL</text>
<text x="251" y="309.06" font-size="7.7" text-anchor="start" font-weight="bold">d</text>
</g>
</svg>
</body></html>
